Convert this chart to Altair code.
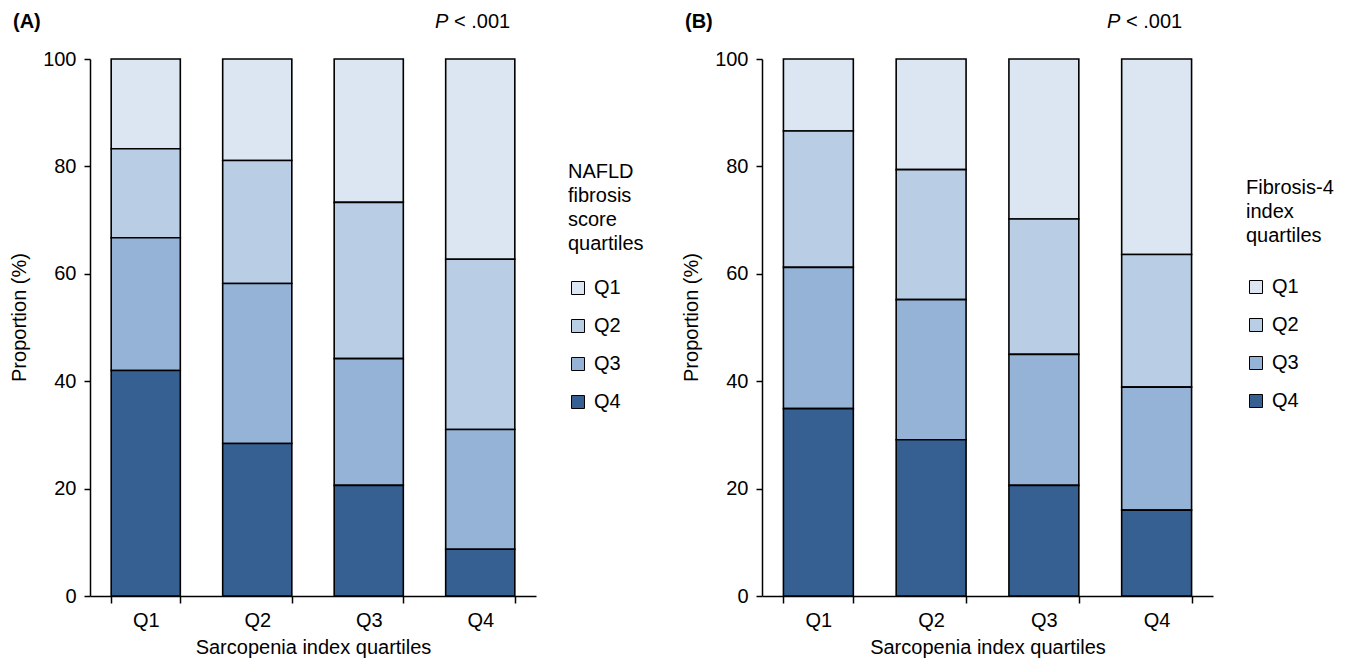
import altair as alt
import pandas as pd

FONT = "Liberation Sans"
FS = 20

# Categories
sarcopenia_quartiles = ["Q1", "Q2", "Q3", "Q4"]
fibrosis_quartiles = ["Q1", "Q2", "Q3", "Q4"]
stack_rank = [3, 2, 1, 0]  # Q4 at the bottom of each bar

# Panel A: NAFLD fibrosis score quartiles (%), per sarcopenia index quartile Q1..Q4
nfs_q1 = [16.7, 18.9, 26.7, 37.3]
nfs_q2 = [16.6, 22.9, 29.1, 31.7]
nfs_q3 = [24.7, 29.8, 23.6, 22.3]
nfs_q4 = [42.0, 28.4, 20.6, 8.7]

# Panel B: Fibrosis-4 index quartiles (%), per sarcopenia index quartile Q1..Q4
fib4_q1 = [13.4, 20.6, 29.8, 36.4]
fib4_q2 = [25.4, 24.2, 25.2, 24.7]
fib4_q3 = [26.3, 26.1, 24.4, 22.9]
fib4_q4 = [34.9, 29.1, 20.6, 16.0]

colors = ["#DCE6F2", "#B9CDE5", "#95B3D7", "#376092"]
y_ticks = [0, 20, 40, 60, 80, 100]

panel_tags = ["(A)", "(B)"]
p_italic = "P"
p_rest = "< .001"
x_title = "Sarcopenia index quartiles"
y_title = "Proportion (%)"
legend_title_a = ["NAFLD", "fibrosis", "score", "quartiles"]
legend_title_b = ["Fibrosis-4", "index", "quartiles"]


def make_df(series):
    rows = []
    for gi, g in enumerate(fibrosis_quartiles):
        for si, s in enumerate(sarcopenia_quartiles):
            rows.append({"sarc": s, "group": g, "rank": stack_rank[gi],
                         "value": series[gi][si]})
    return pd.DataFrame(rows)


def panel(df, width, tag, ltitle, lx, ly, ltpad):
    bars = alt.Chart(df).mark_bar(stroke="black", strokeWidth=1.6).encode(
        x=alt.X("sarc:N", sort=sarcopenia_quartiles, title=x_title,
                scale=alt.Scale(paddingInner=0.38, paddingOuter=0.19),
                axis=alt.Axis(labelAngle=0, tickBand="extent", tickSize=7,
                              labelPadding=7, titlePadding=7)),
        y=alt.Y("value:Q", stack="zero", title=y_title,
                scale=alt.Scale(domain=[0, 100], nice=False),
                axis=alt.Axis(values=y_ticks, tickSize=6, labelPadding=8,
                              titlePadding=13, titleY=258)),
        color=alt.Color("group:N",
                        scale=alt.Scale(domain=fibrosis_quartiles, range=colors),
                        legend=alt.Legend(title=ltitle, orient="none",
                                          legendX=lx, legendY=ly,
                                          titleFontSize=FS, titleFontWeight="normal",
                                          titleFont=FONT, titleColor="black",
                                          titleLineHeight=24, titlePadding=ltpad,
                                          labelFontSize=FS, labelFont=FONT,
                                          labelColor="black", labelOffset=6,
                                          symbolType="square", symbolSize=169,
                                          symbolStrokeColor="black",
                                          symbolStrokeWidth=1, symbolOpacity=1,
                                          rowPadding=18, padding=0)),
        order=alt.Order("rank:Q", sort="ascending"),
    )
    tag_text = alt.Chart(pd.DataFrame({"t": [tag]})).mark_text(
        align="left", baseline="middle", fontSize=FS, fontWeight="bold",
        font=FONT, color="black").encode(
        x=alt.value(-77), y=alt.value(-37), text="t:N")
    p_text = alt.Chart(pd.DataFrame({"t": [p_italic]})).mark_text(
        align="left", baseline="middle", fontSize=FS, fontStyle="italic",
        font=FONT, color="black").encode(
        x=alt.value(345), y=alt.value(-37), text="t:N")
    r_text = alt.Chart(pd.DataFrame({"t": [p_rest]})).mark_text(
        align="left", baseline="middle", fontSize=FS,
        font=FONT, color="black").encode(
        x=alt.value(364), y=alt.value(-37), text="t:N")
    return alt.layer(bars, tag_text, p_text, r_text).properties(
        width=width, height=537)


chart_a = panel(make_df([nfs_q1, nfs_q2, nfs_q3, nfs_q4]), 446, panel_tags[0],
                legend_title_a, 478, 103, 24)
chart_b = panel(make_df([fib4_q1, fib4_q2, fib4_q3, fib4_q4]), 451, panel_tags[1],
                legend_title_b, 484, 119, 31)

chart = alt.hconcat(chart_a, chart_b, spacing=37).resolve_legend(
    color="independent"
).configure_view(stroke=None).configure_axis(
    grid=False, domainColor="black", tickColor="black", domainWidth=1.5,
    tickWidth=1.5, labelColor="black", titleColor="black", labelFont=FONT,
    titleFont=FONT, labelFontSize=FS, titleFontSize=FS, titleFontWeight="normal"
).properties(
    padding={"left": 1, "top": 4, "right": 5, "bottom": 2},
    background="white"
)

chart.save("out.html", embed_options={"renderer": "svg", "actions": False})
